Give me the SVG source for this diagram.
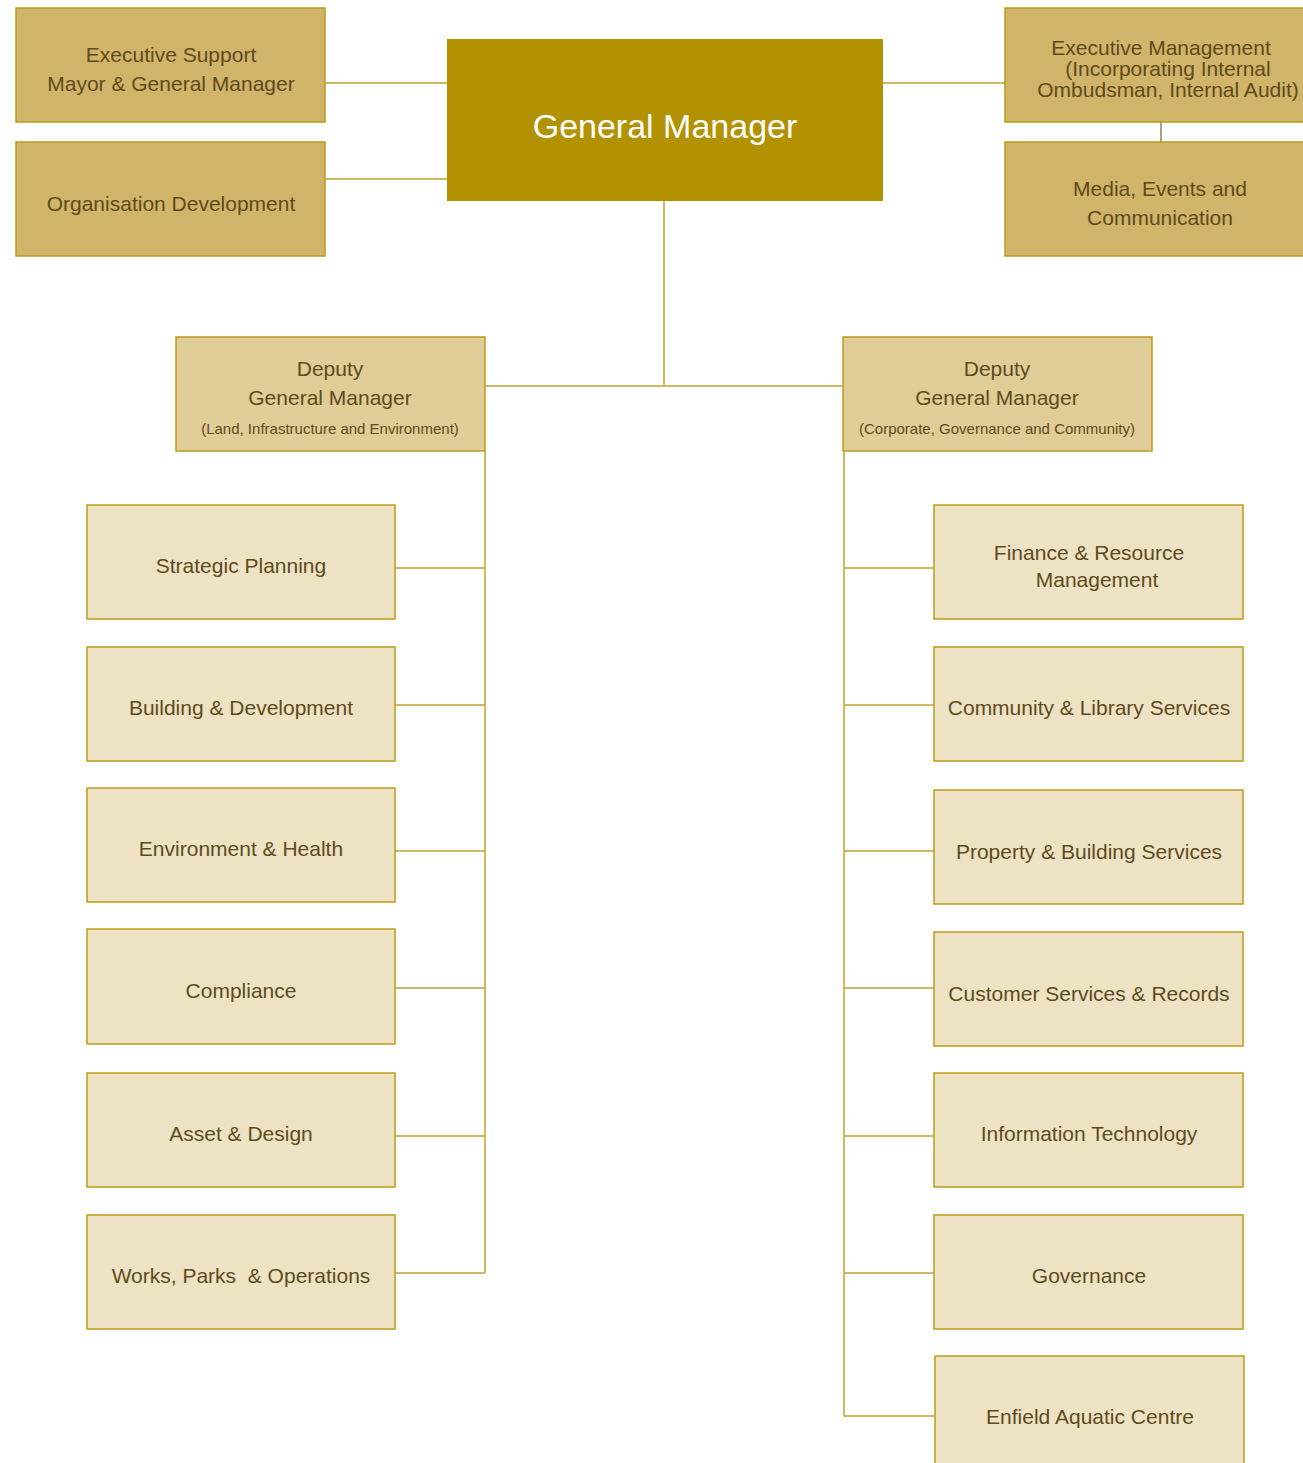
<svg xmlns="http://www.w3.org/2000/svg" width="1303" height="1463" viewBox="0 0 1303 1463">
<style>
.t1{fill:#D0B46A;stroke:#BC9C18;stroke-width:1.5}
.t2{fill:#E0CC97;stroke:#BC9C18;stroke-width:1.5}
.t3{fill:#EDE3C4;stroke:#BC9C18;stroke-width:1.5}
text{font-family:"Liberation Sans","DejaVu Sans",sans-serif;fill:#5E4B1C;text-anchor:middle}
.s20{font-size:21px}
.s15{font-size:15px}
.c{stroke:#C2A232;stroke-width:1.5;fill:none}
</style>
<rect width="1303" height="1463" fill="#ffffff"/>
<g id="connectors">
<path class="c" d="M325 83H447M325 179H447M883 83H1005"/>
<path d="M1161 122V142" stroke="#A89F85" stroke-width="2"/>
<path class="c" d="M664 201V386M485 386H843"/>
<path class="c" d="M485 451V1273M395 568H485M395 705H485M395 851H485M395 988H485M395 1136H485M395 1273H485"/>
<path class="c" d="M844 451V1416H934M844 568H934M844 705H934M844 851H934M844 988H934M844 1136H934M844 1273H934"/>
</g>
<g id="exec-support"><rect class="t1" x="16" y="8" width="309" height="114"/><text class="s20" x="171" y="62">Executive Support</text><text class="s20" x="171" y="91">Mayor &amp; General Manager</text></g>
<g id="org-dev"><rect class="t1" x="16" y="142" width="309" height="114"/><text class="s20" x="171" y="211">Organisation Development</text></g>
<g id="gm"><rect x="447" y="39" width="436" height="162" fill="#B29200"/><text x="665" y="138" style="font-size:34px;fill:#ffffff">General Manager</text></g>
<g id="exec-mgmt"><rect class="t1" x="1005" y="8" width="310" height="114"/><text class="s20" x="1161" y="55">Executive Management</text><text class="s20" x="1168" y="76">(Incorporating Internal</text><text class="s20" x="1168" y="97">Ombudsman, Internal Audit)</text></g>
<g id="media"><rect class="t1" x="1005" y="142" width="310" height="114"/><text class="s20" x="1160" y="196">Media, Events and</text><text class="s20" x="1160" y="225">Communication</text></g>
<g id="dgm-left"><rect class="t2" x="176" y="337" width="309" height="114"/><text class="s20" x="330" y="376">Deputy</text><text class="s20" x="330" y="405">General Manager</text><text class="s15" x="330" y="434">(Land, Infrastructure and Environment)</text></g>
<g id="dgm-right"><rect class="t2" x="843" y="337" width="309" height="114"/><text class="s20" x="997" y="376">Deputy</text><text class="s20" x="997" y="405">General Manager</text><text class="s15" x="997" y="434">(Corporate, Governance and Community)</text></g>
<g id="strategic"><rect class="t3" x="87" y="505" width="308" height="114"/><text class="s20" x="241" y="573">Strategic Planning</text></g>
<g id="building"><rect class="t3" x="87" y="647" width="308" height="114"/><text class="s20" x="241" y="715">Building &amp; Development</text></g>
<g id="environment"><rect class="t3" x="87" y="788" width="308" height="114"/><text class="s20" x="241" y="856">Environment &amp; Health</text></g>
<g id="compliance"><rect class="t3" x="87" y="929" width="308" height="115"/><text class="s20" x="241" y="998">Compliance</text></g>
<g id="asset"><rect class="t3" x="87" y="1073" width="308" height="114"/><text class="s20" x="241" y="1141">Asset &amp; Design</text></g>
<g id="works"><rect class="t3" x="87" y="1215" width="308" height="114"/><text class="s20" x="241" y="1283" xml:space="preserve">Works, Parks  &amp; Operations</text></g>
<g id="finance"><rect class="t3" x="934" y="505" width="309" height="114"/><text class="s20" x="1089" y="560">Finance &amp; Resource</text><text class="s20" x="1097" y="587">Management</text></g>
<g id="community"><rect class="t3" x="934" y="647" width="309" height="114"/><text class="s20" x="1089" y="715">Community &amp; Library Services</text></g>
<g id="property"><rect class="t3" x="934" y="790" width="309" height="114"/><text class="s20" x="1089" y="859">Property &amp; Building Services</text></g>
<g id="customer"><rect class="t3" x="934" y="932" width="309" height="114"/><text class="s20" x="1089" y="1001">Customer Services &amp; Records</text></g>
<g id="it"><rect class="t3" x="934" y="1073" width="309" height="114"/><text class="s20" x="1089" y="1141">Information Technology</text></g>
<g id="governance"><rect class="t3" x="934" y="1215" width="309" height="114"/><text class="s20" x="1089" y="1283">Governance</text></g>
<g id="aquatic"><rect class="t3" x="935" y="1356" width="309" height="120"/><text class="s20" x="1090" y="1424">Enfield Aquatic Centre</text></g>
</svg>
